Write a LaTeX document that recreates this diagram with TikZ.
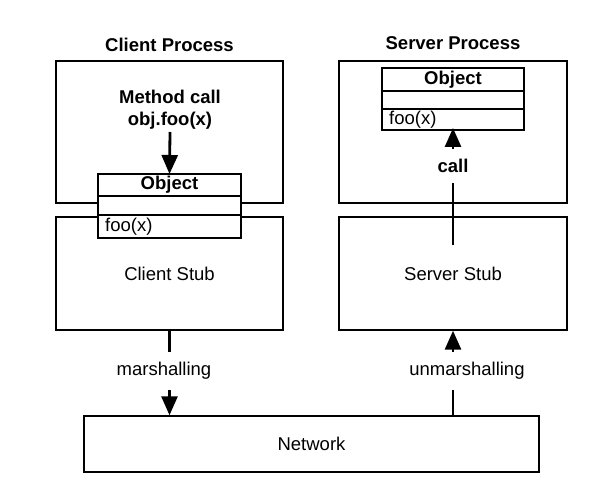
\documentclass[tikz,border=0pt]{standalone}
\usepackage{fontspec}
\setmainfont{Liberation Sans}
\usetikzlibrary{arrows.meta}
\tikzset{
  box/.style={draw, line width=1.4pt, rectangle, inner sep=0pt, font=\fontsize{18.5}{22}\selectfont},
  objpart/.style={draw, line width=2.6pt, fill=white, rectangle, inner sep=0pt, outer sep=0pt, minimum width=143pt},
  lbl/.style={font=\fontsize{18.5}{22}\selectfont, inner sep=2pt},
  blbl/.style={font=\fontsize{18.5}{22}\selectfont\bfseries, inner sep=2pt},
  gaplbl/.style={font=\fontsize{18.5}{22}\selectfont, fill=white, inner xsep=2pt, inner ysep=0pt, minimum height=38pt},
  arr/.style={line width=2.8pt, -{Triangle[width=16pt,length=19pt]}},
}
\begin{document}
\begin{tikzpicture}[x=1pt,y=-1pt]
\useasboundingbox (0,0) rectangle (615,489);
% titles
\node[blbl] (ctitle) at (169.5,45) {Client Process};
\node[blbl] (stitle) at (453,43) {Server Process};
% process and stub boxes
\node[box, minimum width=227pt, minimum height=142pt] (cproc) at (169.5,132) {};
\node[box, minimum width=227pt, minimum height=113pt] (cstub) at (169.5,273.5) {Client Stub};
\node[box, minimum width=228pt, minimum height=142pt] (sproc) at (453,132) {};
\node[box, minimum width=228pt, minimum height=113pt] (sstub) at (453,273.5) {Server Stub};
\node[box, minimum width=455pt, minimum height=56pt] (net) at (311.5,444) {Network};
% method call label
\node[blbl, align=center, anchor=south] (mcall) at (170,132) {Method call\\obj.foo(x)};
% client object
\node[objpart, minimum height=22pt] (cobjh) at (169.5,185) {};
\node[objpart, minimum height=19pt, anchor=north] (cobjm) at (cobjh.south) {};
\node[objpart, minimum height=23pt, anchor=north] (cobjf) at (cobjm.south) {};
\node[blbl] (cobjt) at (cobjh.center) {Object};
\node[lbl, anchor=west, inner sep=7pt] (cfoo) at (cobjf.west) {foo(x)};
% server object
\node[objpart, minimum width=142pt, minimum height=23pt] (sobjh) at (453,79.5) {};
\node[objpart, minimum width=142pt, minimum height=18pt, anchor=north] (sobjm) at (sobjh.south) {};
\node[objpart, minimum width=142pt, minimum height=21pt, anchor=north] (sobjf) at (sobjm.south) {};
\node[blbl] (sobjt) at (sobjh.center) {Object};
\node[lbl, anchor=west, inner sep=7pt] (sfoo) at (sobjf.west) {foo(x)};
% connectors
\coordinate (callstart) at (453,245);
\draw[arr] (mcall.south) -- (cobjh.north);
\draw[arr] (callstart) -- ([yshift=2pt]sobjf.south);
\draw[arr] (cstub.south) -- (cstub.south |- net.north);
\draw[arr] (sstub.south |- net.north) -- (sstub.south);
% labels over connectors
\node[gaplbl, font=\fontsize{18.5}{22}\selectfont\bfseries, minimum height=34pt] (call) at (453,166) {call};
\node[gaplbl] (marsh) at (164,371) {marshalling};
\node[gaplbl] (unmarsh) at (467,371) {unmarshalling};
\end{tikzpicture}
\end{document}
